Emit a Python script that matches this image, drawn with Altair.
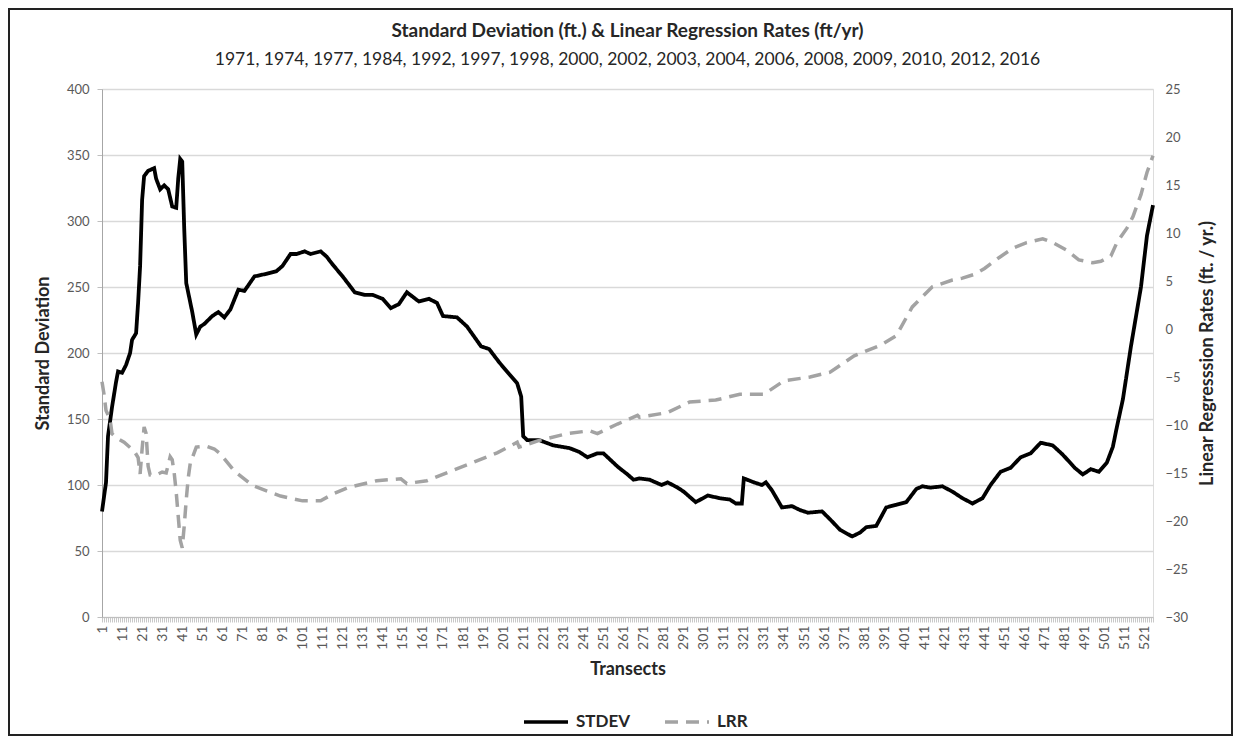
import altair as alt
import pandas as pd

# ---------------- data ----------------
stdev_transect = [1, 3, 4, 6, 8, 9, 11, 13, 15, 16, 18, 19, 20, 21, 22, 24, 27, 28, 30, 32,
                  34, 36, 38, 39, 40, 41, 42, 43, 46, 48, 50, 52, 56, 59, 62, 65, 69, 72, 77, 83,
                  88, 91, 95, 98, 102, 105, 110, 113, 116, 121, 125, 127, 132, 136, 141, 145, 149, 153, 159, 164,
                  168, 171, 178, 183, 190, 194, 199, 204, 208, 210, 211, 213, 219, 226, 234, 239, 243, 248, 251, 258,
                  263, 266, 269, 274, 280, 283, 288, 291, 297, 303, 309, 314, 317, 320, 321, 326, 330, 332, 335, 340,
                  345, 349, 353, 360, 364, 369, 375, 379, 382, 387, 392, 397, 402, 407, 410, 414, 420, 425, 430, 435,
                  440, 444, 449, 454, 459, 464, 469, 475, 480, 486, 490, 494, 498, 502, 505, 507, 510, 514, 519, 522,
                  525]
stdev_value = [80, 102, 137, 159, 178, 186, 185, 191, 200, 210, 215, 238, 266, 316, 334, 338, 340, 332, 324, 327,
               324, 311, 310, 332, 347, 345, 294, 253, 231, 214, 220, 222, 228, 231, 227, 233, 248, 247, 258, 260,
               262, 266, 275, 275, 277, 275, 277, 273, 267, 258, 250, 246, 244, 244, 241, 234, 237, 246, 239, 241,
               238, 228, 227, 220, 205, 203, 193, 184, 177, 167, 137, 134, 134, 130, 128, 125, 121, 124, 124, 114,
               108, 104, 105, 104, 100, 102, 98, 95, 87, 92, 90, 89, 86, 86, 105, 102, 100, 102, 96, 83,
               84, 81, 79, 80, 74, 66, 61, 64, 68, 69, 83, 85, 87, 97, 99, 98, 99, 95, 90, 86,
               90, 100, 110, 113, 121, 124, 132, 130, 123, 113, 108, 112, 110, 117, 129, 144, 165, 205, 250, 289,
               312]

lrr_transect = [1, 2, 3, 5, 6, 8, 12, 17, 19, 20, 21, 22, 23, 24, 25, 29, 31, 33, 35, 36,
                37, 38, 39, 40, 41, 42, 43, 44, 45, 48, 53, 57, 60, 67, 76, 90, 101, 110, 116, 124,
                138, 150, 153, 163, 175, 186, 198, 208, 209, 219, 233, 244, 248, 258, 268, 269, 283, 294, 307, 319,
                331, 341, 354, 364, 376, 389, 397, 405, 415, 425, 430, 436, 441, 448, 455, 462, 470, 475, 482, 488,
                495, 499, 504, 507, 512, 515, 519, 522, 525]
lrr_value = [-5.5, -6.8, -8.5, -9.4, -10.9, -11.3, -11.8, -12.7, -13.4, -15.1, -12.5, -10.2, -10.9, -14.3, -15.2, -15.1, -14.9, -15.0, -13.3, -13.6,
             -15.0, -17.0, -19.5, -22.0, -22.8, -20.5, -17.8, -15.5, -14.0, -12.3, -12.2, -12.5, -13.0, -14.8, -16.3, -17.4, -17.9, -17.9, -17.2, -16.5,
             -15.8, -15.6, -16.1, -15.8, -14.8, -13.9, -12.9, -11.8, -12.3, -11.6, -10.9, -10.6, -10.9, -9.9, -9.0, -9.2, -8.7, -7.6, -7.4, -6.8,
             -6.8, -5.4, -5.0, -4.5, -2.8, -1.7, -0.7, 2.3, 4.4, 5.1, 5.3, 5.7, 6.3, 7.4, 8.4, 9.0, 9.4, 9.0, 8.2, 7.2,
             6.9, 7.05, 7.6, 9.0, 10.5, 11.7, 14.0, 16.3, 18.05]

series_names = ["STDEV", "LRR"]
series_colors = ["#000000", "#a3a3a3"]
years = [1971, 1974, 1977, 1984, 1992, 1997, 1998, 2000, 2002, 2003, 2004, 2006, 2008, 2009, 2010, 2012, 2016]
n_transects = 525
left_ticks = [0, 50, 100, 150, 200, 250, 300, 350, 400]
right_ticks = [-30, -25, -20, -15, -10, -5, 0, 5, 10, 15, 20, 25]

# ---------------- build ----------------
df = pd.concat([
    pd.DataFrame({"transect": stdev_transect, "value": stdev_value, "series": "STDEV"}),
    pd.DataFrame({"transect": lrr_transect, "value": lrr_value, "series": "LRR"}),
], ignore_index=True)

FONT = "Lato"
W, H = 1051, 528
PAD = {"left": 94, "top": 81, "right": 80, "bottom": 119}
DARK = "#262626"

legend = alt.Legend(
    orient="none", legendX=420, legendY=609, direction="horizontal", title=None,
    symbolType="stroke", symbolSize=1936, symbolStrokeWidth=3.6,
    labelFont=FONT, labelFontSize=17, labelFontWeight="bold", labelColor=DARK,
    columnPadding=26, labelOffset=6,
)
color = alt.Color("series:N", scale=alt.Scale(domain=series_names, range=series_colors), legend=legend)
dash = alt.StrokeDash("series:N", scale=alt.Scale(domain=series_names, range=[[1, 0], [13, 8]]), legend=legend)

x_enc = alt.X(
    "transect:Q",
    scale=alt.Scale(domain=[1, n_transects], nice=False, zero=False),
    axis=alt.Axis(
        values=list(range(1, n_transects + 1)),
        labelExpr="(datum.value - 1) % 10 == 0 ? datum.label : ''",
        format="d", labelAngle=270, labelOverlap=False, labelFlush=False,
        labelFont=FONT, labelFontSize=14, labelColor="#595959", labelPadding=3,
        tickSize=5, tickColor="#c8c8c8", tickWidth=1,
        domainColor="#bfbfbf", grid=False,
        title="Transects", titleFont=FONT, titleFontSize=18, titleFontWeight="bold",
        titleColor=DARK, titlePadding=11,
    ),
)

base = alt.Chart(df).encode(x=x_enc, color=color, strokeDash=dash)

stdev_line = base.transform_filter(alt.datum.series == "STDEV").mark_line(strokeWidth=3.8).encode(
    y=alt.Y(
        "value:Q",
        scale=alt.Scale(domain=[0, 400], nice=False),
        axis=alt.Axis(
            orient="left", values=left_ticks, grid=True, gridColor="#d9d9d9", gridWidth=1.5,
            domainColor="#a6a6a6", tickColor="#bfbfbf", tickSize=5,
            labelFont=FONT, labelFontSize=13, labelColor="#595959", labelPadding=8,
            title="Standard Deviation", titleFont=FONT, titleFontSize=18, titleFontWeight="bold",
            titleColor=DARK, titlePadding=14,
        ),
    )
)

lrr_line = base.transform_filter(alt.datum.series == "LRR").mark_line(strokeWidth=3.5).encode(
    y=alt.Y(
        "value:Q",
        scale=alt.Scale(domain=[-30, 25], nice=False),
        axis=alt.Axis(
            orient="right", values=right_ticks, grid=False, domain=False, ticks=False,
            labelFont=FONT, labelFontSize=13, labelColor="#595959", labelPadding=12,
            title="Linear Regresssion Rates (ft. / yr.)", titleAngle=270,
            titleFont=FONT, titleFontSize=18, titleFontWeight="bold",
            titleColor=DARK, titlePadding=29,
        ),
    )
)

frame = alt.Chart(pd.DataFrame({"k": [0]})).mark_rect(
    fill="transparent", stroke="#222222", strokeWidth=2
).encode(
    x=alt.value(-PAD["left"] + 1), x2=alt.value(W + PAD["right"] - 1),
    y=alt.value(-PAD["top"] + 1), y2=alt.value(H + PAD["bottom"] - 1),
)

chart = alt.layer(frame, stdev_line, lrr_line).resolve_scale(y="independent").properties(
    width=W, height=H,
    autosize=alt.AutoSizeParams(type="none"),
    padding=PAD,
    title=alt.TitleParams(
        text="Standard Deviation (ft.) & Linear Regression Rates (ft/yr)",
        subtitle=", ".join(str(y) for y in years),
        font=FONT, fontSize=19, fontWeight="bold", color=DARK,
        subtitleFont=FONT, subtitleFontSize=17.5, subtitleColor=DARK,
        subtitlePadding=10, anchor="middle", offset=-60,
    ),
).configure_view(stroke=None).configure(background="white")

chart.save("out.html", embed_options={"renderer": "svg", "actions": False})
